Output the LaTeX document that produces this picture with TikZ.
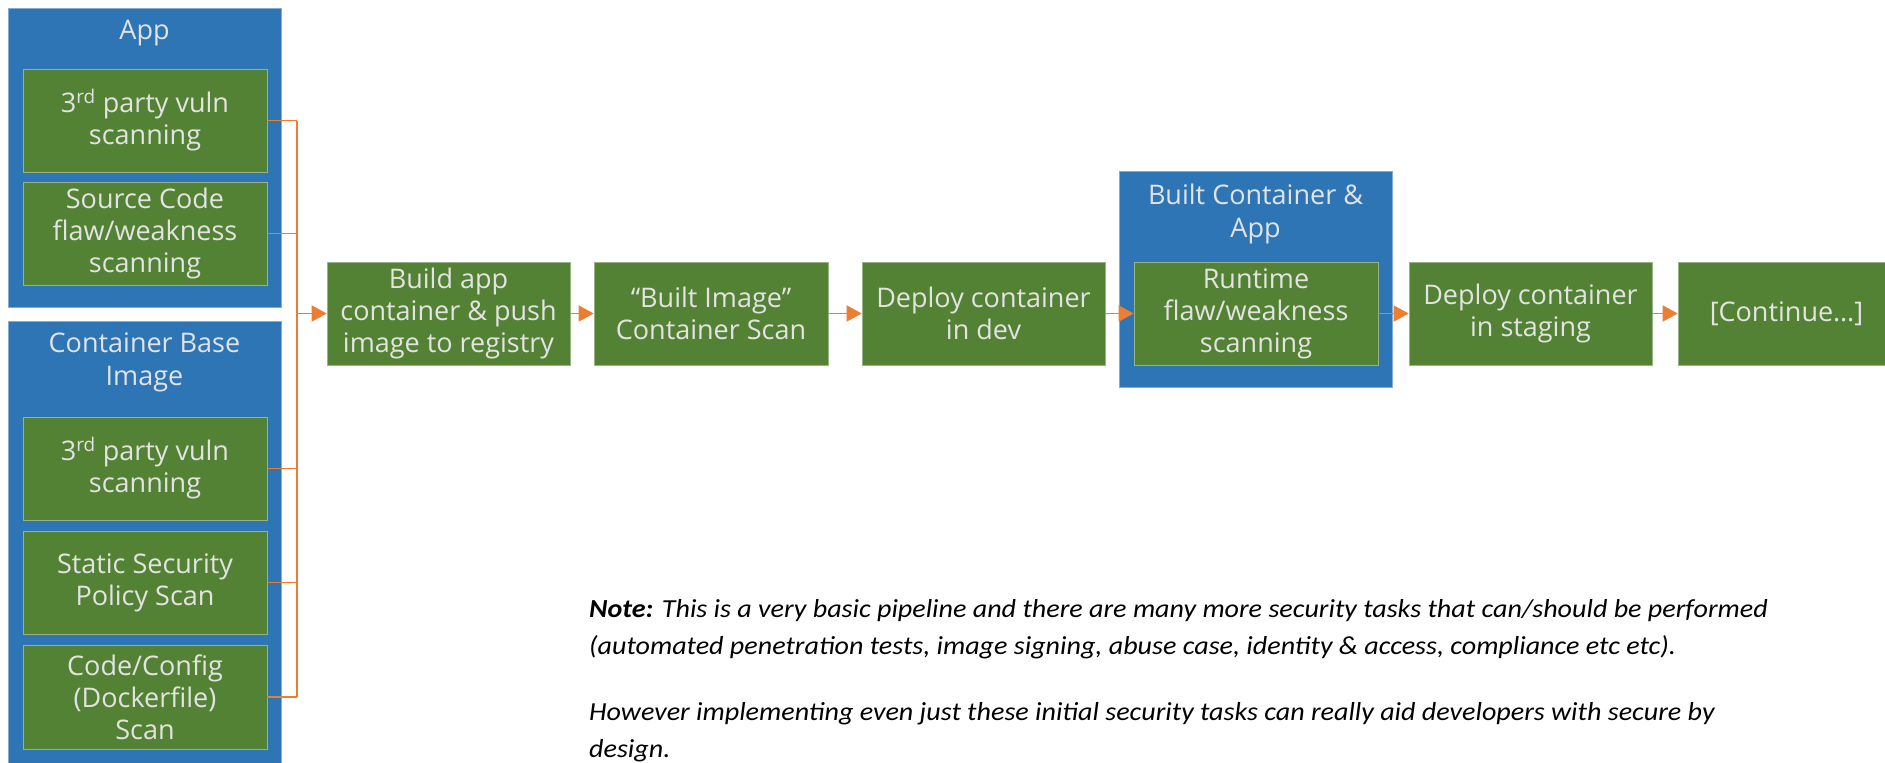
\documentclass[tikz,border=0pt]{standalone}
\usepackage{fontspec}
\setmainfont{Open Sans}
\newfontfamily\notefont[FakeStretch=1.08]{Carlito}
\usetikzlibrary{arrows.meta}
\definecolor{boxblue}{HTML}{2E75B6}
\definecolor{boxgreen}{HTML}{548235}
\definecolor{arrowor}{HTML}{ED7D31}
\definecolor{txt}{HTML}{E3E3E3}
\begin{document}
\begin{tikzpicture}[x=1pt,y=-1pt,
  bluebox/.style={fill=boxblue, draw=boxblue!60!white, line width=0.6pt, inner sep=0pt},
  greenbox/.style={fill=boxgreen, draw=boxgreen!60!white, line width=0.6pt, inner sep=0pt,
     text=txt, font=\fontsize{27}{32}\selectfont, align=center, minimum height=103pt},
  ttl/.style={text=txt, font=\fontsize{27}{33}\selectfont, align=center, inner sep=0pt},
  conn/.style={draw=arrowor, line width=1.6pt},
  arr/.style={conn, -{Triangle[length=15pt,width=16pt]}}
]
\useasboundingbox (0,0) rectangle (1885,763);
% left groups
\node[bluebox, minimum width=273pt, minimum height=299pt] (appgrp) at (144.5,157.5) {};
\node[ttl] (apptitle) at (144.5,33) {App};
\node[greenbox, minimum width=244pt] (ag1) at (145,120.5) {3\textsuperscript{rd} party vuln\\scanning};
\node[greenbox, minimum width=244pt] (ag2) at (145,233.5) {Source Code\\flaw/weakness\\scanning};
\node[bluebox, minimum width=273pt, minimum height=449pt] (cgrp) at (144.5,545.5) {};
\node[ttl] (ctitle) at (144.5,362) {Container Base\\Image};
\node[greenbox, minimum width=244pt] (cg1) at (145,468.5) {3\textsuperscript{rd} party vuln\\scanning};
\node[greenbox, minimum width=244pt] (cg2) at (145,582.5) {Static Security\\Policy Scan};
\node[greenbox, minimum width=244pt, minimum height=104pt] (cg3) at (145,697) {Code/Config\\(Dockerfile)\\Scan};
% pipeline
\node[greenbox, minimum width=243pt] (build) at (448.5,313.5) {Build app\\container \& push\\image to registry};
\node[greenbox, minimum width=234pt] (bimg) at (711,313.5) {“Built Image”\\Container Scan};
\node[greenbox, minimum width=243pt] (dev) at (983.5,313.5) {Deploy container\\in dev};
\node[bluebox, minimum width=273pt, minimum height=216pt] (bcgrp) at (1255.5,279) {};
\node[ttl] (bctitle) at (1255.5,214) {Built Container \&\\App};
\node[greenbox, minimum width=244pt] (run) at (1256,313.5) {Runtime\\flaw/weakness\\scanning};
\node[greenbox, minimum width=243pt] (stg) at (1530.5,313.5) {Deploy container\\in staging};
\node[greenbox, minimum width=217pt] (cont) at (1786.5,313.5) {[Continue…]};
% connectors
\coordinate (bx) at (297,0);
\foreach \n in {ag1,ag2,cg1,cg2,cg3} {\draw[conn] (\n.east) -- (\n.east -| bx);}
\draw[conn] (ag1.east -| bx) -- (cg3.east -| bx);
\draw[arr] (build.west -| bx) -- (build.west);
\draw[arr] (build.east) -- (bimg.west);
\draw[arr] (bimg.east) -- (dev.west);
\draw[arr] (dev.east) -- (run.west);
\draw[arr] (run.east) -- (stg.west);
\draw[arr] (stg.east) -- (cont.west);
% note
\node[anchor=north west, inner sep=0pt, align=left, font=\notefont\itshape\fontsize{26}{37}\selectfont] (note) at (589,599)
 {\textbf{Note:} This is a very basic pipeline and there are many more security tasks that can/should be performed\\
  (automated penetration tests, image signing, abuse case, identity \& access, compliance etc etc).\\[29pt]
  However implementing even just these initial security tasks can really aid developers with secure by\\
  design.};
\end{tikzpicture}
\end{document}
